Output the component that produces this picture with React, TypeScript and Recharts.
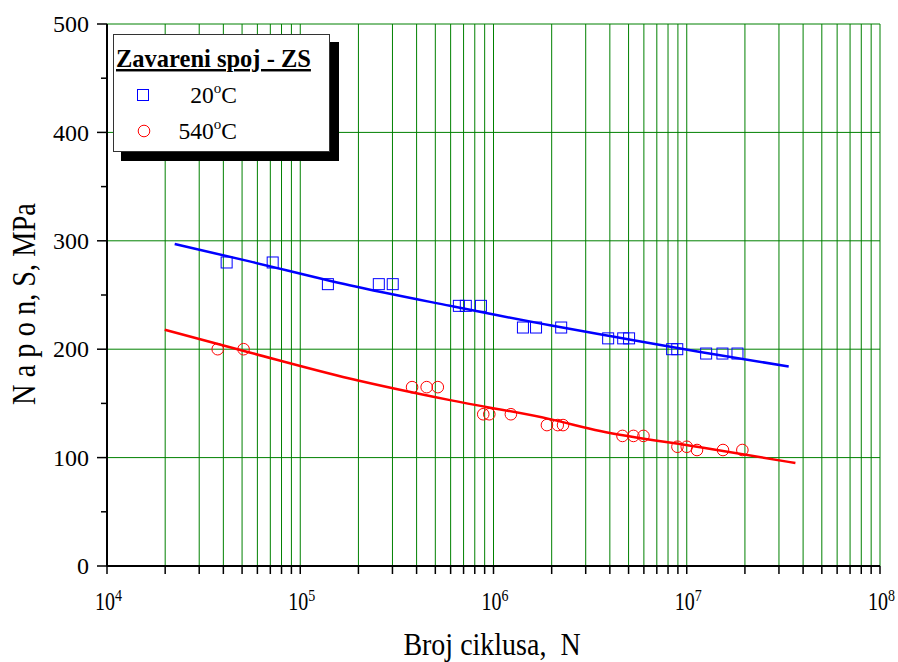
import React from 'react';
import { ComposedChart, Line, Scatter, XAxis, YAxis, CartesianGrid } from 'recharts';

// ---- data ----
const xMajorTicks = [1e4, 1e5, 1e6, 1e7, 1e8];
const xTicks = [
  1e4, 2e4, 3e4, 4e4, 5e4, 6e4, 7e4, 8e4, 9e4,
  1e5, 2e5, 3e5, 4e5, 5e5, 6e5, 7e5, 8e5, 9e5,
  1e6, 2e6, 3e6, 4e6, 5e6, 6e6, 7e6, 8e6, 9e6,
  1e7, 2e7, 3e7, 4e7, 5e7, 6e7, 7e7, 8e7, 9e7,
  1e8,
];
const yTicks = [0, 50, 100, 150, 200, 250, 300, 350, 400, 450, 500];
const yMajorTicks = [0, 100, 200, 300, 400, 500];

const n20 = [41600, 72000, 139000, 255000, 301000, 662000, 719000, 861000, 1420000, 1660000, 2240000, 3920000, 4690000, 5030000, 8400000, 8930000, 12600000, 15300000, 18300000];
const s20 = [280, 280, 260, 260, 260, 240, 240, 240, 220, 220, 220, 210, 210, 210, 200, 200, 196, 196, 196];

const n540 = [37400, 50900, 379000, 451000, 515000, 885000, 951000, 1230000, 1890000, 2150000, 2290000, 4650000, 5300000, 5970000, 8950000, 10000000, 11300000, 15400000, 19400000];
const s540 = [200, 200, 165, 165, 165, 140, 140, 140, 130, 130, 130, 120, 120, 120, 110, 110, 107, 107, 107];

const fit20N = [22400, 54700, 180000, 596000, 1960000, 4350000, 11750000, 33700000];
const fit20S = [297, 281, 259, 240, 222, 211, 197.5, 184];

const fit540N = [19900, 54700, 180000, 596000, 1960000, 3565000, 11750000, 36500000];
const fit540S = [218, 197, 173, 153, 135.5, 124.5, 109.5, 95];

const pts20 = n20.map((n, i) => ({ n, s: s20[i] }));
const pts540 = n540.map((n, i) => ({ n, s: s540[i] }));
const line20 = fit20N.map((n, i) => ({ n, s: fit20S[i] }));
const line540 = fit540N.map((n, i) => ({ n, s: fit540S[i] }));

const FONT = '"Liberation Serif", "Times New Roman", serif';
const BLUE = '#0000ff';
const RED = '#ff0000';
const GRID = '#008000';

const SquareShape = (p: any) => (
  <rect x={p.cx - 5.5} y={p.cy - 5.5} width={11} height={11} fill="none" stroke={BLUE} strokeWidth={1} />
);
const CircleShape = (p: any) => (
  <circle cx={p.cx} cy={p.cy} r={5.8} fill="none" stroke={RED} strokeWidth={1} />
);

const XTick = (p: any) => {
  const v = p.payload.value;
  if (!xMajorTicks.includes(v)) return null;
  const exp = Math.round(Math.log10(v));
  return (
    <g transform={`translate(${p.x + 1.5}, ${p.y + 34}) scale(1, 1.25)`}>
      <text x={0} y={0} textAnchor="middle" fontFamily={FONT} fontSize={20} fill="#000">
        10<tspan fontSize={14} dy={-7.5}>{exp}</tspan>
      </text>
    </g>
  );
};

const YTick = (p: any) => {
  const v = p.payload.value;
  const major = yMajorTicks.includes(v);
  return (
    <g>
      <line x1={p.x - (major ? 10 : 6)} x2={p.x} y1={p.y} y2={p.y} stroke="#000" strokeWidth={1.5} />
      {major && (
        <text x={p.x - 18} y={p.y} dy="0.34em" textAnchor="end" fontFamily={FONT} fontSize={24} fill="#000">
          {v}
        </text>
      )}
    </g>
  );
};

const XLabel = (p: any) => {
  const vb = p.viewBox;
  const cx = vb.x + vb.width / 2 - 1.5;
  const cy = vb.y + vb.height - 7.5;
  return (
    <g transform={`translate(${cx}, ${cy}) scale(1, 1.1)`}>
      <text x={0} y={0} textAnchor="middle" fontFamily={FONT} fontSize={28} fill="#000">
        {'Broj ciklusa,\u00A0 N'}
      </text>
    </g>
  );
};

const YLabel = (p: any) => {
  const vb = p.viewBox;
  const cx = 35;
  const cy = vb.y + vb.height / 2 + 9;
  return (
    <g transform={`translate(${cx}, ${cy}) rotate(-90) scale(1, 1.22)`}>
      <text x={0} y={0} textAnchor="middle" fontFamily={FONT} fontSize={28.4} fill="#000">
        N a p o n, S, MPa
      </text>
    </g>
  );
};

export default function App() {
  return (
    <div style={{ position: 'absolute', left: 0, top: 0, width: 898, height: 662, background: '#fff' }}>
      <ComposedChart width={898} height={662} margin={{ top: 24, right: 18, bottom: 0, left: 0 }}>
        <CartesianGrid xAxisId={0} yAxisId={0} stroke={GRID} strokeWidth={1} horizontalValues={yMajorTicks} />
        <XAxis
          xAxisId={0}
          dataKey="n"
          type="number"
          scale="log"
          domain={[1e4, 1e8]}
          ticks={xTicks}
          interval={0}
          height={96}
          allowDataOverflow
          axisLine={{ stroke: '#000', strokeWidth: 2 }}
          tickLine={{ stroke: '#000', strokeWidth: 1.5 }}
          tickSize={8}
          tickMargin={2}
          tick={<XTick />}
          label={<XLabel />}
        />
        <XAxis
          xAxisId="t"
          orientation="top"
          type="number"
          scale="log"
          domain={[1e4, 1e8]}
          height={0}
          tick={false}
          tickLine={false}
          allowDataOverflow
          axisLine={{ stroke: '#888', strokeWidth: 2 }}
        />
        <YAxis
          yAxisId={0}
          dataKey="s"
          type="number"
          domain={[0, 500]}
          ticks={yTicks}
          interval={0}
          width={107}
          tickSize={0}
          tickMargin={0}
          tickLine={false}
          axisLine={{ stroke: '#000', strokeWidth: 2 }}
          tick={<YTick />}
          label={<YLabel />}
        />
        <YAxis
          yAxisId="r"
          orientation="right"
          type="number"
          domain={[0, 500]}
          ticks={yMajorTicks}
          width={0}
          tick={false}
          tickLine={false}
          axisLine={{ stroke: '#000', strokeWidth: 2 }}
        />
        <Line data={line20} dataKey="s" xAxisId={0} yAxisId={0} type="monotone" stroke={BLUE} strokeWidth={2.5} dot={false} activeDot={false} isAnimationActive={false} />
        <Line data={line540} dataKey="s" xAxisId={0} yAxisId={0} type="monotone" stroke={RED} strokeWidth={2.5} dot={false} activeDot={false} isAnimationActive={false} />
        <Scatter data={pts20} dataKey="s" xAxisId={0} yAxisId={0} shape={SquareShape} isAnimationActive={false} />
        <Scatter data={pts540} dataKey="s" xAxisId={0} yAxisId={0} shape={CircleShape} isAnimationActive={false} />
      </ComposedChart>
      <svg width={898} height={662} style={{ position: 'absolute', left: 0, top: 0, pointerEvents: 'none' }}>
        <rect x={121} y={42} width={218} height={119} fill="#000" />
        <rect x={113.5} y={34.5} width={216} height={117} fill="#fff" stroke="#333" strokeWidth={1} />
        <text x={116} y={67} fontFamily={FONT} fontSize={24.5} fontWeight="bold" textDecoration="underline" fill="#000">
          Zavareni spoj - ZS
        </text>
        <rect x={137.5} y={89.5} width={11} height={11} fill="none" stroke={BLUE} strokeWidth={1} />
        <text x={237} y={103} textAnchor="end" fontFamily={FONT} fontSize={23.5} fill="#000">
          20<tspan fontSize={15} dy={-10}>o</tspan><tspan dy={10}>C</tspan>
        </text>
        <circle cx={144} cy={131} r={5.8} fill="none" stroke={RED} strokeWidth={1} />
        <text x={237} y={139} textAnchor="end" fontFamily={FONT} fontSize={23.5} fill="#000">
          540<tspan fontSize={15} dy={-10}>o</tspan><tspan dy={10}>C</tspan>
        </text>
      </svg>
    </div>
  );
}
